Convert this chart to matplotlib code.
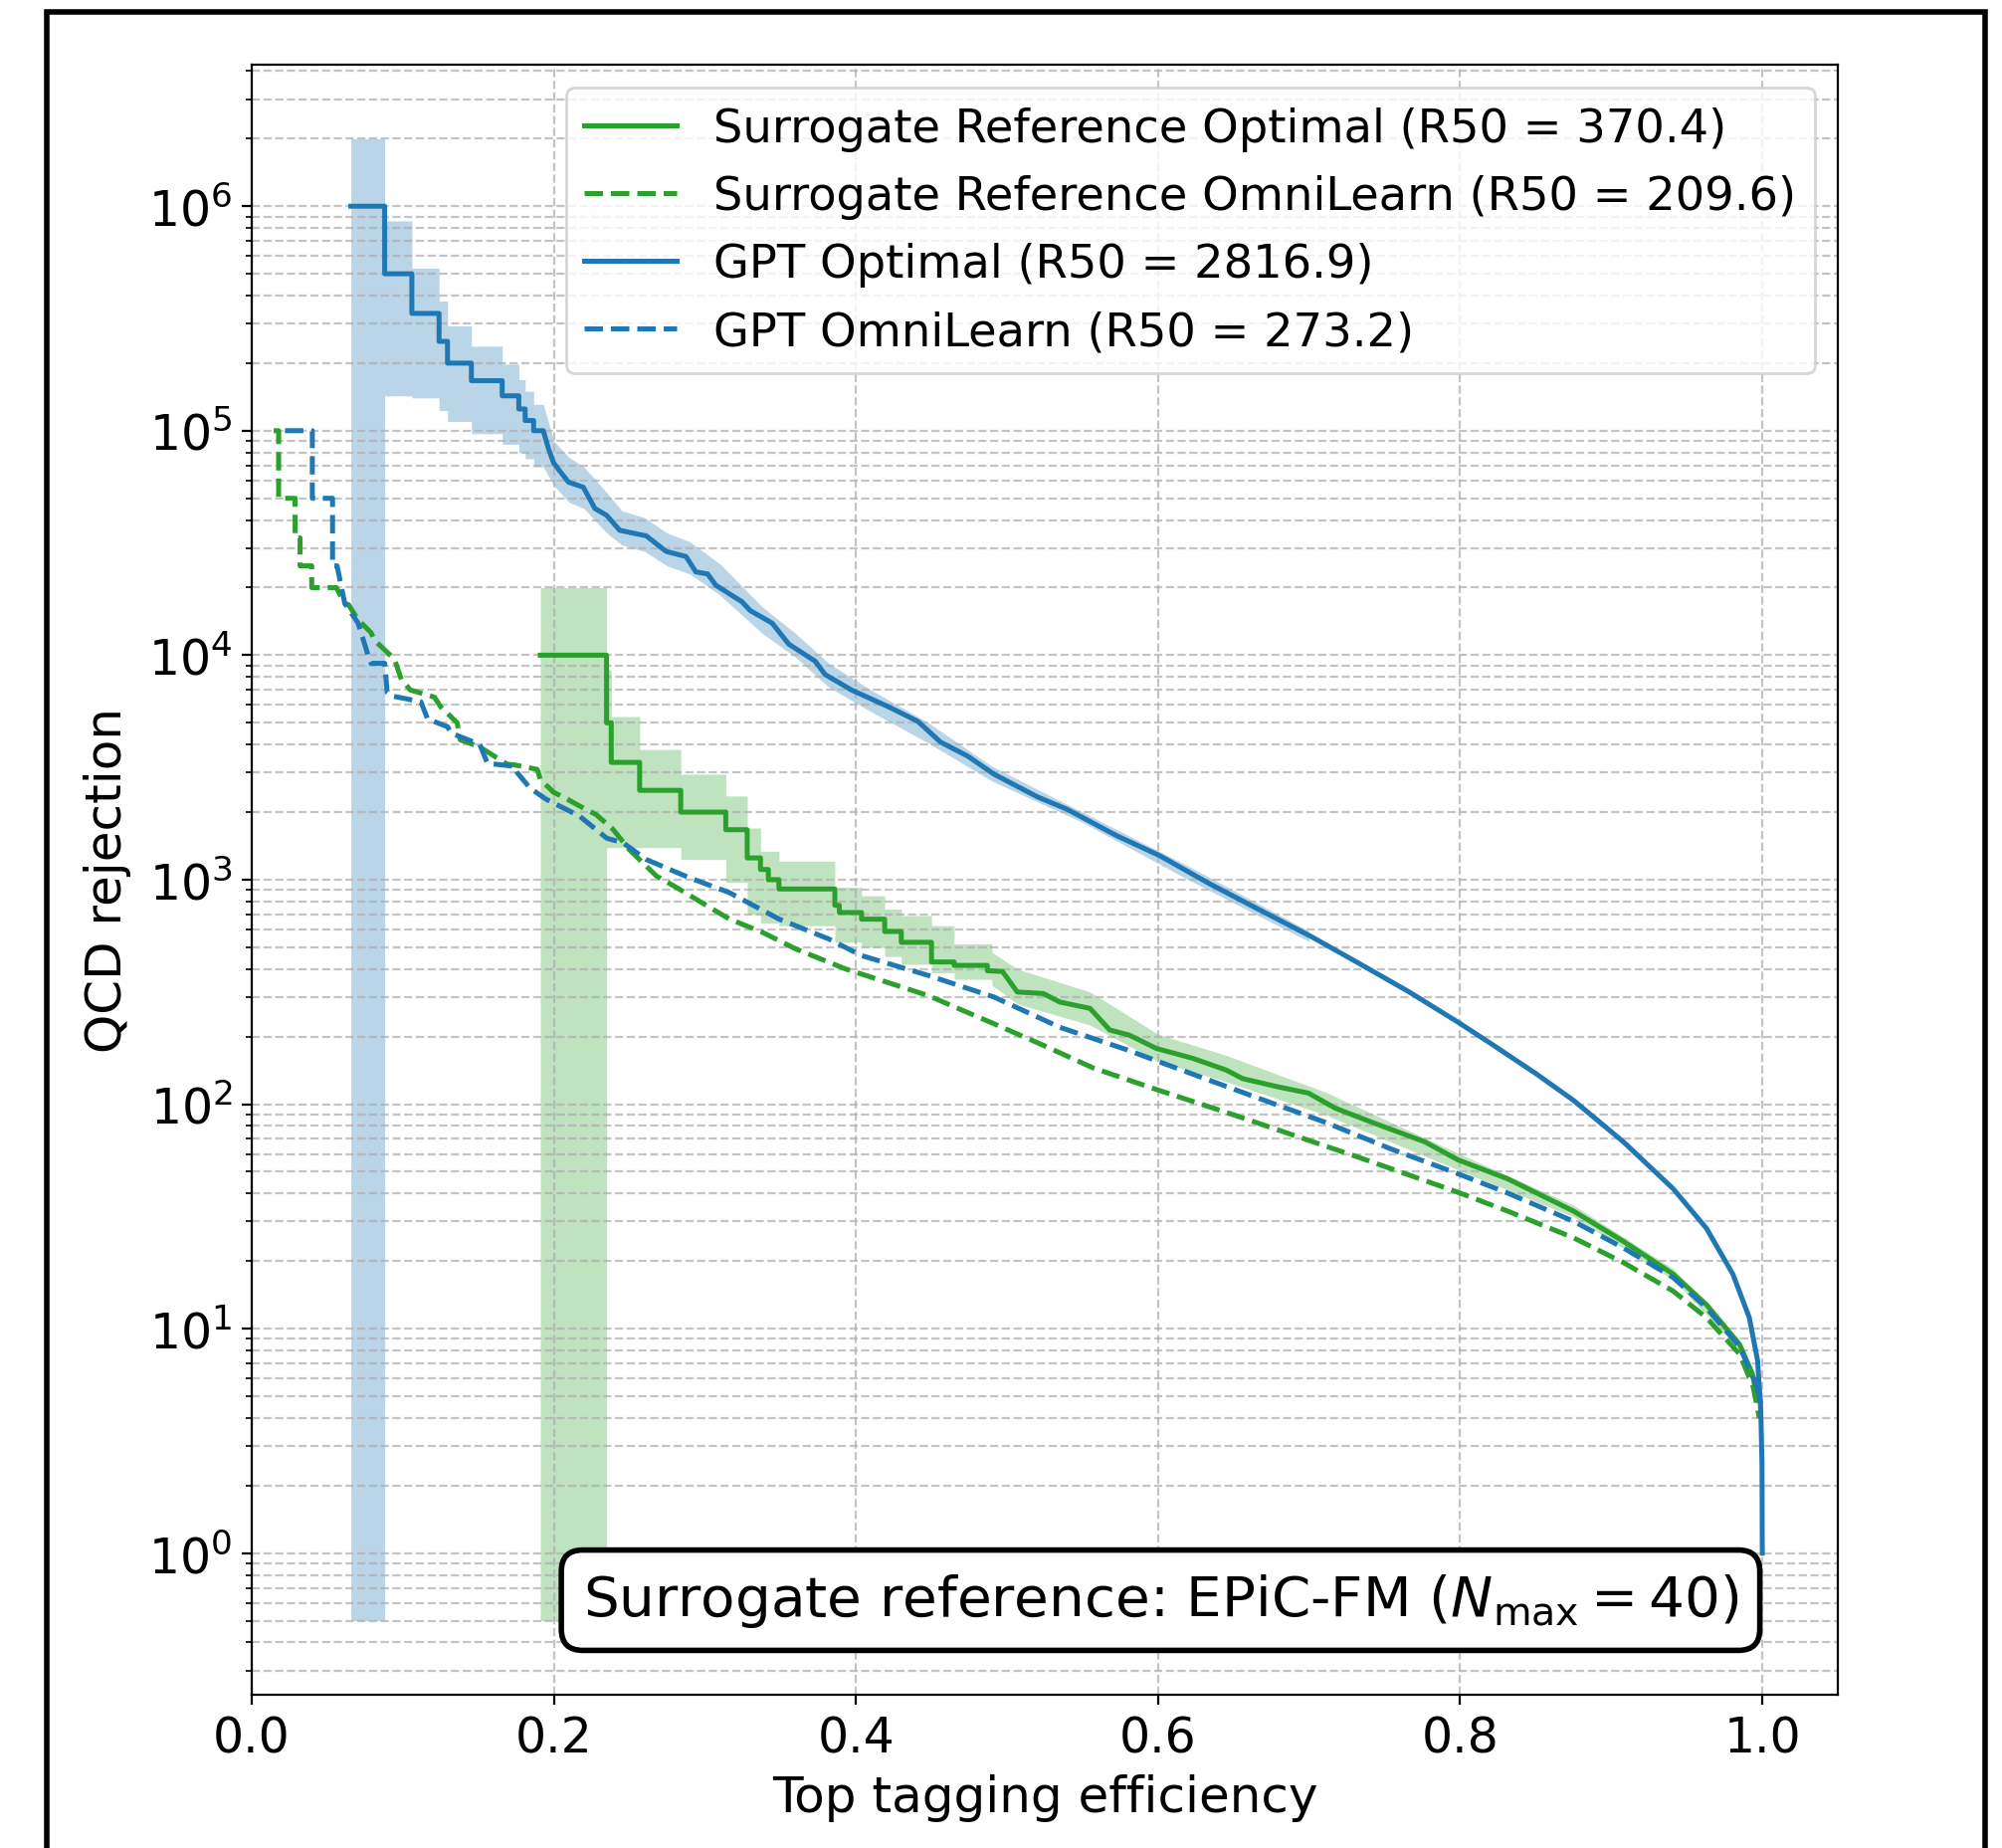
"""ROC curves: QCD rejection versus top tagging efficiency"""
import matplotlib

matplotlib.use("Agg")
import numpy as np
from matplotlib import pyplot as plt
from matplotlib.patches import Rectangle
from matplotlib.ticker import LogLocator, NullFormatter

BLUE = "#1f77b4"
GREEN = "#2ca02c"
LW = 1.8

r50 = {"sr_opt": 370.4, "sr_omni": 209.6, "gpt_opt": 2816.9, "gpt_omni": 273.2}

# low-statistics staircase (edges, levels) followed by the smooth tail
gpt_opt_step_eff = [0.0656, 0.088, 0.106, 0.124, 0.1296, 0.1454, 0.1658, 0.1768, 0.181, 0.1866, 0.193]
gpt_opt_step_rej = [1e6, 5e5, 3.33e5, 2.5e5, 2e5, 1.67e5, 1.43e5, 1.25e5, 1.11e5, 1e5]
gpt_opt_eff = [0.1965, 0.1998, 0.204, 0.2097, 0.2195, 0.2272, 0.2349, 0.2436, 0.2612, 0.2743,
               0.2875, 0.294, 0.3018, 0.3072, 0.3245, 0.330, 0.3445, 0.3555, 0.373, 0.3796,
               0.397, 0.4213, 0.441, 0.456, 0.474, 0.4914, 0.52, 0.5397, 0.5726, 0.601,
               0.634, 0.667, 0.702, 0.7327, 0.7656, 0.7985, 0.8204, 0.85, 0.875, 0.908,
               0.941, 0.963, 0.9805, 0.9914, 0.9969, 0.999, 0.9998, 1.0]
gpt_opt_rej = [8.3e4, 7.2e4, 6.6e4, 5.9e4, 5.6e4, 4.5e4, 4.2e4, 3.6e4, 3.4e4, 2.9e4,
               2.75e4, 2.35e4, 2.3e4, 2.05e4, 1.73e4, 1.58e4, 1.39e4, 1.12e4, 9.4e3, 8.2e3,
               7.0e3, 5.9e3, 5.07e3, 4.1e3, 3.55e3, 2.95e3, 2.34e3, 2.06e3, 1.57e3, 1.28e3,
               960, 735, 555, 425, 318, 232, 186, 137, 104, 68,
               42, 28, 17.5, 11.2, 7.2, 4.3, 2.5, 1.0]

gpt_opt_band_step_hi = [2e6, 8.6e5, 5.3e5, 3.78e5, 2.93e5, 2.38e5, 1.98e5, 1.69e5, 1.5e5, 1.31e5]
gpt_opt_band_step_lo = [0.5, 1.43e5, 1.4e5, 1.23e5, 1.1e5, 9.7e4, 8.7e4, 8.0e4, 7.5e4, 6.9e4]
gpt_opt_band_eff = [0.2, 0.21, 0.22, 0.235, 0.245, 0.26, 0.275, 0.29, 0.31, 0.338,
                    0.36, 0.382, 0.41, 0.448, 0.49, 0.55, 0.62, 0.7]
gpt_opt_band_hi = [9.0e4, 7.6e4, 6.9e4, 5.3e4, 4.4e4, 4.1e4, 3.5e4, 3.2e4, 2.55e4, 1.64e4,
                   1.25e4, 9.2e3, 7.0e3, 5.0e3, 3.2e3, 2.0e3, 1.15e3, 590]
gpt_opt_band_lo = [5.7e4, 4.8e4, 4.5e4, 3.5e4, 3.1e4, 2.9e4, 2.5e4, 2.3e4, 1.85e4, 1.25e4,
                   9.8e3, 7.2e3, 5.6e3, 4.06e3, 2.75e3, 1.8e3, 1.0e3, 530]

gpt_omni_step_eff = [0.022, 0.0401, 0.0535, 0.0565]
gpt_omni_step_rej = [1e5, 5e4, 2.5e4]
gpt_omni_eff = [0.0616, 0.0704, 0.077, 0.079, 0.088, 0.0897, 0.092, 0.112, 0.1164, 0.1296,
                0.132, 0.151, 0.156, 0.1735, 0.1757, 0.1844, 0.195, 0.217, 0.235, 0.2458,
                0.2612, 0.2897, 0.316, 0.349, 0.3818, 0.4037, 0.4476, 0.4914, 0.535, 0.579,
                0.623, 0.667, 0.7107, 0.7546, 0.7985, 0.8314, 0.875, 0.908, 0.941, 0.963,
                0.985, 0.9958, 0.999]
gpt_omni_rej = [1.7e4, 1.39e4, 1.0e4, 9.2e3, 9.2e3, 6.8e3, 6.6e3, 6.2e3, 5.2e3, 4.8e3,
                4.5e3, 4.0e3, 3.3e3, 3.2e3, 3.0e3, 2.55e3, 2.28e3, 1.92e3, 1.53e3, 1.46e3,
                1.23e3, 1.02e3, 877, 668, 545, 459, 375, 300, 220, 175,
                136, 106, 83, 63, 49, 40.2, 30.1, 22.9, 16.9, 12.4,
                8.3, 5.7, 4.6]

sr_opt_step_eff = [0.191, 0.2349, 0.238, 0.2568, 0.284, 0.3138, 0.328, 0.3368, 0.342, 0.349,
                   0.386, 0.389, 0.4037, 0.419, 0.43, 0.45, 0.465, 0.487]
sr_opt_step_rej = [1e4, 5e3, 3.33e3, 2.5e3, 2e3, 1.67e3, 1.25e3, 1.11e3, 1e3, 909,
                   769, 714, 667, 588, 526, 430, 415]
sr_opt_eff = [0.487, 0.497, 0.5068, 0.524, 0.535, 0.555, 0.568, 0.581, 0.599, 0.623,
              0.645, 0.656, 0.678, 0.6996, 0.7173, 0.7437, 0.7765, 0.7985, 0.8314, 0.875,
              0.908, 0.941, 0.963, 0.985, 0.9934, 0.997]
sr_opt_rej = [393, 390, 316, 311, 285, 267, 214, 203, 177, 160,
              142, 130, 120, 112, 96, 82, 68, 56.5, 46.5, 33.4,
              24.5, 17.5, 12.8, 8.5, 6.3, 4.8]

sr_opt_band_step_eff = [0.191, 0.2349, 0.238, 0.2568, 0.284, 0.3138, 0.328, 0.3368, 0.349, 0.386,
                        0.4037, 0.419, 0.43, 0.45, 0.465, 0.49]
sr_opt_band_step_hi = [2e4, 8.6e3, 5.33e3, 3.8e3, 2.95e3, 2.36e3, 1.7e3, 1.34e3, 1.21e3, 925,
                       848, 740, 692, 624, 518]
sr_opt_band_step_lo = [0.5, 1.39e3, 1.39e3, 1.39e3, 1.23e3, 972, 700, 640, 624, 526,
                       500, 455, 420, 385, 360]
sr_opt_band_eff = [0.49, 0.5068, 0.555, 0.6, 0.645, 0.711, 0.7985, 0.875, 0.941, 0.985]
sr_opt_band_hi = [475, 400, 316, 205, 165, 113, 60.5, 35.5, 18.5, 8.9]
sr_opt_band_lo = [339, 280, 225, 155, 126, 89.5, 51, 31.5, 16.5, 8.1]

sr_omni_step_eff = [0.0145, 0.0178, 0.0287, 0.032, 0.0397, 0.056]
sr_omni_step_rej = [1e5, 5e4, 3.33e4, 2.5e4, 2e4]
sr_omni_eff = [0.0616, 0.064, 0.0704, 0.079, 0.081, 0.0945, 0.099, 0.105, 0.121, 0.125,
               0.136, 0.138, 0.151, 0.169, 0.1735, 0.189, 0.191, 0.1998, 0.206, 0.217,
               0.228, 0.239, 0.25, 0.2678, 0.283, 0.305, 0.316, 0.338, 0.36, 0.3928,
               0.4476, 0.4914, 0.524, 0.557, 0.601, 0.645, 0.689, 0.7327, 0.7656, 0.7985,
               0.8314, 0.875, 0.908, 0.941, 0.963, 0.985, 0.994, 0.998]
sr_omni_rej = [1.7e4, 1.68e4, 1.44e4, 1.26e4, 1.17e4, 9.6e3, 7.8e3, 7.0e3, 6.5e3, 5.9e3,
               5.0e3, 4.2e3, 3.9e3, 3.27e3, 3.25e3, 3.1e3, 2.8e3, 2.45e3, 2.34e3, 2.13e3,
               1.95e3, 1.68e3, 1.36e3, 1.04e3, 908, 740, 669, 583, 492, 401,
               305, 228, 183, 145, 115, 92, 73, 58, 48.5, 40.5,
               33.4, 25.4, 19.7, 14.7, 11.2, 7.7, 5.5, 4.0]


def stairs(edges, levels):
    """Turn bin edges and levels into the vertices of a staircase."""
    x = np.repeat(edges, 2)[1:-1]
    y = np.repeat(levels, 2)
    return x, y


def curve(step_eff, step_rej, eff, rej):
    """Staircase part followed by the smooth part of an ROC curve."""
    sx, sy = stairs(step_eff, step_rej)
    return np.concatenate([sx, eff]), np.concatenate([sy, rej])


def band(step_eff, step_lo, step_hi, eff, lo, hi):
    sx, slo = stairs(step_eff, step_lo)
    _, shi = stairs(step_eff, step_hi)
    return (np.concatenate([sx, eff]), np.concatenate([slo, lo]),
            np.concatenate([shi, hi]))


fig = plt.figure(figsize=(10.06, 9.29), dpi=200)
ax = fig.add_axes([253 / 2012, 1 - 1704 / 1858, 1594 / 2012, 1638 / 1858])

x, lo, hi = band(sr_opt_band_step_eff, sr_opt_band_step_lo, sr_opt_band_step_hi,
                 sr_opt_band_eff, sr_opt_band_lo, sr_opt_band_hi)
ax.fill_between(x, lo, hi, color=GREEN, alpha=0.3, lw=0)
x, lo, hi = band(gpt_opt_step_eff, gpt_opt_band_step_lo, gpt_opt_band_step_hi,
                 gpt_opt_band_eff, gpt_opt_band_lo, gpt_opt_band_hi)
ax.fill_between(x, lo, hi, color=BLUE, alpha=0.3, lw=0)

x, y = curve(sr_opt_step_eff, sr_opt_step_rej, sr_opt_eff, sr_opt_rej)
ax.plot(x, y, color=GREEN, lw=LW,
        label=f"Surrogate Reference Optimal (R50 = {r50['sr_opt']})")
x, y = curve(sr_omni_step_eff, sr_omni_step_rej, sr_omni_eff, sr_omni_rej)
ax.plot(x, y, color=GREEN, lw=LW, ls="--",
        label=f"Surrogate Reference OmniLearn (R50 = {r50['sr_omni']})")
x, y = curve(gpt_opt_step_eff, gpt_opt_step_rej, gpt_opt_eff, gpt_opt_rej)
ax.plot(x, y, color=BLUE, lw=LW, label=f"GPT Optimal (R50 = {r50['gpt_opt']})")
x, y = curve(gpt_omni_step_eff, gpt_omni_step_rej, gpt_omni_eff, gpt_omni_rej)
ax.plot(x, y, color=BLUE, lw=LW, ls="--",
        label=f"GPT OmniLearn (R50 = {r50['gpt_omni']})")

ax.set_yscale("log")
ax.set_xlim(0, 1.05)
ax.set_ylim(0.234, 4.27e6)
ax.yaxis.set_major_locator(LogLocator(base=10, numticks=100))
ax.yaxis.set_minor_locator(LogLocator(base=10, subs=np.arange(2, 10), numticks=100))
ax.yaxis.set_minor_formatter(NullFormatter())
ax.grid(True, which="both", linestyle="--", alpha=0.75)
ax.tick_params(labelsize=17.6)
ax.set_xlabel("Top tagging efficiency", fontsize=18)
ax.set_ylabel("QCD rejection", fontsize=18, labelpad=6)
ax.legend(loc="upper right", fontsize=16.7)

ax.text(0.573, 0.058, r"Surrogate reference: EPiC-FM ($N_\mathrm{max} = 40$)",
        transform=ax.transAxes, ha="center", va="center", fontsize=20.3,
        bbox=dict(boxstyle="round,pad=0.38", facecolor="white", edgecolor="black", lw=2))

fig.add_artist(Rectangle((47 / 2012, -0.1), 1948 / 2012, 1.1 - 13 / 1858,
                         transform=fig.transFigure, fill=False, ec="black", lw=2))

fig.savefig("out.png", dpi=200)
